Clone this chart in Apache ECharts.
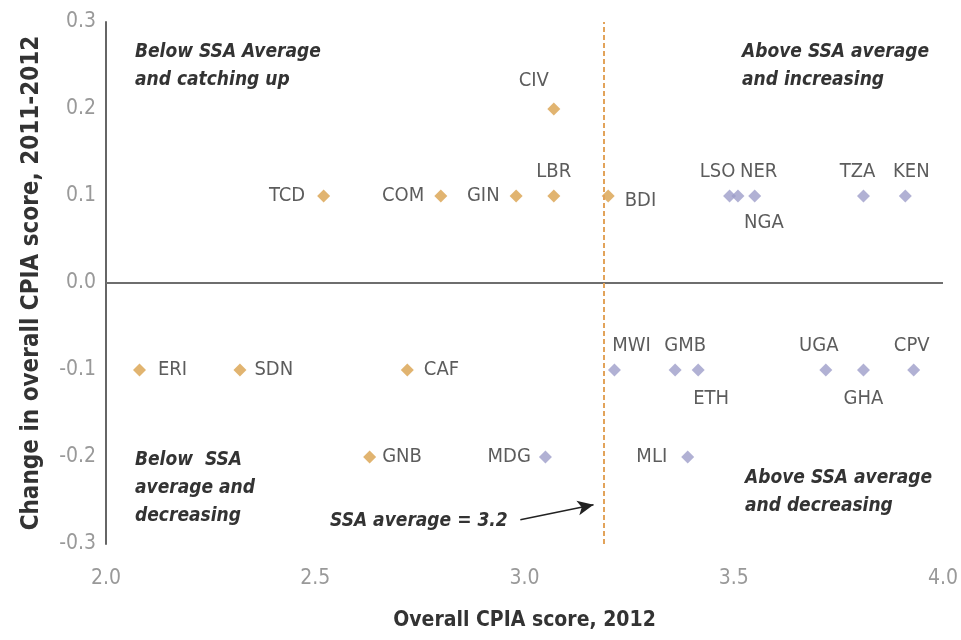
<!DOCTYPE html>
<html>
<head>
<meta charset="utf-8">
<script src="https://cdn.jsdelivr.net/npm/echarts@6/dist/echarts.min.js"></script>
<style>
  html, body { margin: 0; padding: 0; background: #fff; }
  #chart { width: 961px; height: 640px; }
</style>
</head>
<body>
<div id="chart"></div>
<script>
// below SSA average at the start (orange) and above (purple)
const codesBelow = ["TCD", "COM", "GIN", "LBR", "CIV", "BDI", "ERI", "SDN", "CAF", "GNB"];
const scoreBelow = [2.52, 2.8, 2.98, 3.07, 3.07, 3.2, 2.08, 2.32, 2.72, 2.63];
const changeBelow = [0.1, 0.1, 0.1, 0.1, 0.2, 0.1, -0.1, -0.1, -0.1, -0.2];

const codesAbove = ["LSO", "NGA", "NER", "TZA", "KEN", "MWI", "GMB", "ETH", "UGA", "GHA", "CPV", "MDG", "MLI"];
const scoreAbove = [3.49, 3.51, 3.55, 3.81, 3.91, 3.215, 3.36, 3.415, 3.72, 3.81, 3.93, 3.05, 3.39];
const changeAbove = [0.1, 0.1, 0.1, 0.1, 0.1, -0.1, -0.1, -0.1, -0.1, -0.1, -0.1, -0.2, -0.2];

const ssaAverage = 3.19;
const xTicks = [2.0, 2.5, 3.0, 3.5, 4.0];

const FONT = '"Liberation Sans Narrow", "DejaVu Sans Condensed", sans-serif';

// where each country label sits
const labelPlace = {
  TCD: ["left", [-4, 0]], COM: ["left", [-2, 0]], GIN: ["left", [-2, 0]],
  LBR: ["top", [0, 0]], CIV: ["top", [-20, -4]], BDI: ["right", [2, 5]],
  ERI: ["right", [4, 0]], SDN: ["right", [0, 0]], CAF: ["right", [2, 0]], GNB: ["right", [-2, 0]],
  LSO: ["top", [-12, 0]], NGA: ["bottom", [26, 2]], NER: ["top", [4, 0]],
  TZA: ["top", [-6, 0]], KEN: ["top", [6, 0]], MWI: ["top", [17, 0]],
  GMB: ["top", [10, 0]], ETH: ["bottom", [13, 4]], UGA: ["top", [-7, 0]],
  GHA: ["bottom", [0, 4]], CPV: ["top", [-2, 0]], MDG: ["left", [0, 0]], MLI: ["left", [-6, 0]]
};

const makeData = (codes, xs, ys) =>
  codes.map((c, i) => ({
    name: c,
    value: [xs[i], ys[i]],
    label: { position: labelPlace[c][0], offset: labelPlace[c][1] }
  }));

const chart = echarts.init(document.getElementById("chart"));

const quadrantText = (left, top, text) => ({
  type: "text",
  left: left,
  top: top,
  style: {
    text: text,
    font: "italic bold 19px " + FONT,
    fill: "#333",
    lineHeight: 28
  }
});

chart.setOption({
  animation: false,
  grid: { left: 106, right: 18, top: 22, bottom: 96 },
  xAxis: {
    type: "value",
    min: 2,
    max: 4,
    interval: 0.5,
    name: "Overall CPIA score, 2012",
    nameLocation: "middle",
    nameGap: 66,
    nameTextStyle: { fontFamily: FONT, fontWeight: "bold", fontSize: 21, color: "#333" },
    axisLine: { show: false },
    axisTick: { show: false },
    splitLine: { show: false },
    axisLabel: {
      margin: 24,
      fontFamily: FONT,
      fontSize: 21,
      color: "#999",
      formatter: (v) => (xTicks.includes(v) ? v.toFixed(1) : "")
    }
  },
  yAxis: {
    type: "value",
    min: -0.3,
    max: 0.3,
    interval: 0.1,
    name: "Change in overall CPIA score, 2011-2012",
    nameLocation: "middle",
    nameGap: 62,
    nameTextStyle: { fontFamily: FONT, fontWeight: "bold", fontSize: 24, color: "#333" },
    axisLine: { show: true, lineStyle: { color: "#666", width: 2 } },
    axisTick: { show: false },
    splitLine: { show: false },
    axisLabel: {
      margin: 10,
      fontFamily: FONT,
      fontSize: 21,
      color: "#999",
      formatter: (v) => v.toFixed(1)
    }
  },
  graphic: [
    quadrantText(135, 38, "Below SSA Average\nand catching up"),
    quadrantText(742, 38, "Above SSA average\nand increasing"),
    quadrantText(135, 446, "Below  SSA\naverage and\ndecreasing"),
    quadrantText(745, 464, "Above SSA average\nand decreasing"),
    quadrantText(330, 507, "SSA average = 3.2")
  ],
  series: [
    {
      type: "scatter",
      symbol: "diamond",
      symbolSize: 13,
      itemStyle: { color: "#D9A14C" },
      label: {
        show: true,
        formatter: "{b}",
        distance: 8,
        fontFamily: FONT,
        fontSize: 20,
        color: "#333"
      },
      data: makeData(codesBelow, scoreBelow, changeBelow),
      z: 3,
      markLine: {
        silent: true,
        symbol: ["none", "none"],
        label: { show: false },
        data: [
          { yAxis: 0, lineStyle: { color: "#6e6e6e", width: 2, type: "solid" } },
          { xAxis: ssaAverage, lineStyle: { color: "#E2A35A", width: 2, type: [5, 3] } },
          [
            { coord: [2.99, -0.272], symbol: "none" },
            { coord: [3.165, -0.255], symbol: "arrow", symbolSize: [11, 16], lineStyle: { color: "#222", width: 1.5, type: "solid" } }
          ]
        ]
      }
    },
    {
      type: "scatter",
      symbol: "diamond",
      symbolSize: 13,
      itemStyle: { color: "#9E9DC9" },
      label: {
        show: true,
        formatter: "{b}",
        distance: 8,
        fontFamily: FONT,
        fontSize: 20,
        color: "#333"
      },
      data: makeData(codesAbove, scoreAbove, changeAbove),
      z: 3
    }
  ]
});
</script>
</body>
</html>
